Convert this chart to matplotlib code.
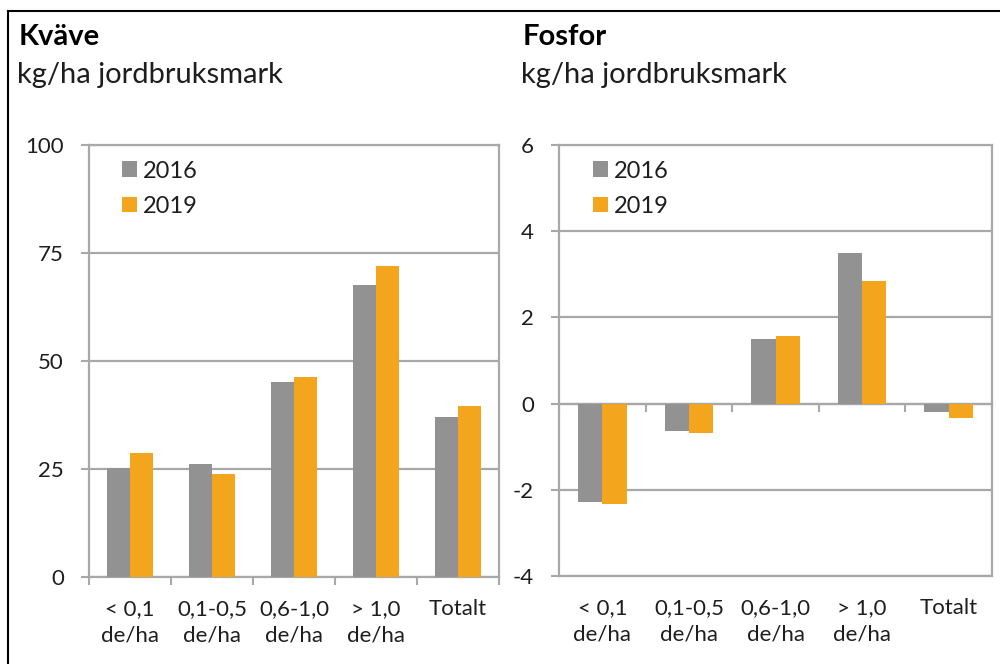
import matplotlib
matplotlib.use("Agg")
import matplotlib.pyplot as plt
import numpy as np
from matplotlib.lines import Line2D

plt.rcParams['font.family'] = ['Lato', 'DejaVu Sans']
plt.rcParams['axes.unicode_minus'] = False

categories = ["< 0,1\nde/ha", "0,1-0,5\nde/ha", "0,6-1,0\nde/ha", "> 1,0\nde/ha", "Totalt"]
series_names = ["2016", "2019"]
kvave_2016 = [25.2, 26.2, 45.1, 67.5, 37.0]
kvave_2019 = [28.7, 23.8, 46.4, 72.1, 39.5]
fosfor_2016 = [-2.29, -0.63, 1.51, 3.50, -0.20]
fosfor_2019 = [-2.32, -0.68, 1.56, 2.84, -0.34]
kvave_ticks = [0, 25, 50, 75, 100]
fosfor_ticks = [-4, -2, 0, 2, 4, 6]

GRAY = '#929292'
ORANGE = '#f3a51d'
LINE = '#a8a8a8'
TEXT = '#1e1e1e'

fig = plt.figure(figsize=(10, 6.64), dpi=100)
axL = fig.add_axes([0.089, 0.131, 0.410, 0.6506])
axR = fig.add_axes([0.559, 0.1325, 0.433, 0.649])

x = np.arange(len(categories))
w = 0.28

def style(ax, ticks, ylim):
    ax.set_ylim(*ylim)
    ax.set_xlim(-0.5, len(categories) - 0.5)
    ax.set_yticks(ticks)
    ax.set_yticklabels([str(t) for t in ticks])
    ax.yaxis.grid(True, color=LINE, linewidth=1.6)
    ax.set_axisbelow(True)
    for s in ax.spines.values():
        s.set_color(LINE)
        s.set_linewidth(1.6)
    ax.tick_params(axis='y', direction='out', length=6, width=1.5, color=LINE,
                   pad=12, labelsize=16, labelcolor=TEXT)
    ax.set_xticks(x)
    ax.set_xticklabels(categories, fontsize=16, color=TEXT, linespacing=1.4, va='top')
    ax.tick_params(axis='x', which='major', length=0, pad=16)

def draw(ax, s1, s2, ticks, ylim, legx):
    style(ax, ticks, ylim)
    h1 = ax.bar(x - w/2, s1, w, color=GRAY, label=series_names[0], zorder=3)
    h2 = ax.bar(x + w/2, s2, w, color=ORANGE, label=series_names[1], zorder=3)
    ax.legend(handles=[h1, h2], loc='upper left', bbox_to_anchor=(legx, 0.964),
              frameon=False, fontsize=17, handlelength=0.64, handleheight=0.64,
              handletextpad=0.26, labelspacing=0.6, borderpad=0, borderaxespad=0,
              labelcolor=TEXT)

draw(axL, kvave_2016, kvave_2019, kvave_ticks, (0, 100), 0.080)
draw(axR, fosfor_2016, fosfor_2019, fosfor_ticks, (-4, 6), 0.0785)

boundaries = np.arange(-0.5, len(categories), 1.0)
axL.set_xticks(boundaries, minor=True)
axL.tick_params(axis='x', which='minor', direction='out', length=6, width=1.5, color=LINE)

sec = axR.secondary_xaxis(0.4)
sec.set_xticks(boundaries)
sec.set_xticklabels([])
sec.tick_params(axis='x', direction='out', length=6, width=1.5, color=LINE)
sec.spines['bottom'].set_color(LINE)
sec.spines['bottom'].set_linewidth(1.6)

# titles
fig.text(0.019, 0.932, "Kväve", fontsize=21, fontweight='bold', color='black', va='baseline')
fig.text(0.017, 0.875, "kg/ha jordbruksmark", fontsize=21, color=TEXT, va='baseline')
fig.text(0.523, 0.932, "Fosfor", fontsize=21, fontweight='bold', color='black', va='baseline')
fig.text(0.521, 0.875, "kg/ha jordbruksmark", fontsize=21, color=TEXT, va='baseline')

# outer frame (top and left edges)
fig.add_artist(Line2D([0.008, 1.0], [1 - 11/664, 1 - 11/664], color='black', linewidth=1.5))
fig.add_artist(Line2D([0.008, 0.008], [0.0, 1 - 11/664], color='black', linewidth=1.5))

fig.savefig("out.png", dpi=100)
